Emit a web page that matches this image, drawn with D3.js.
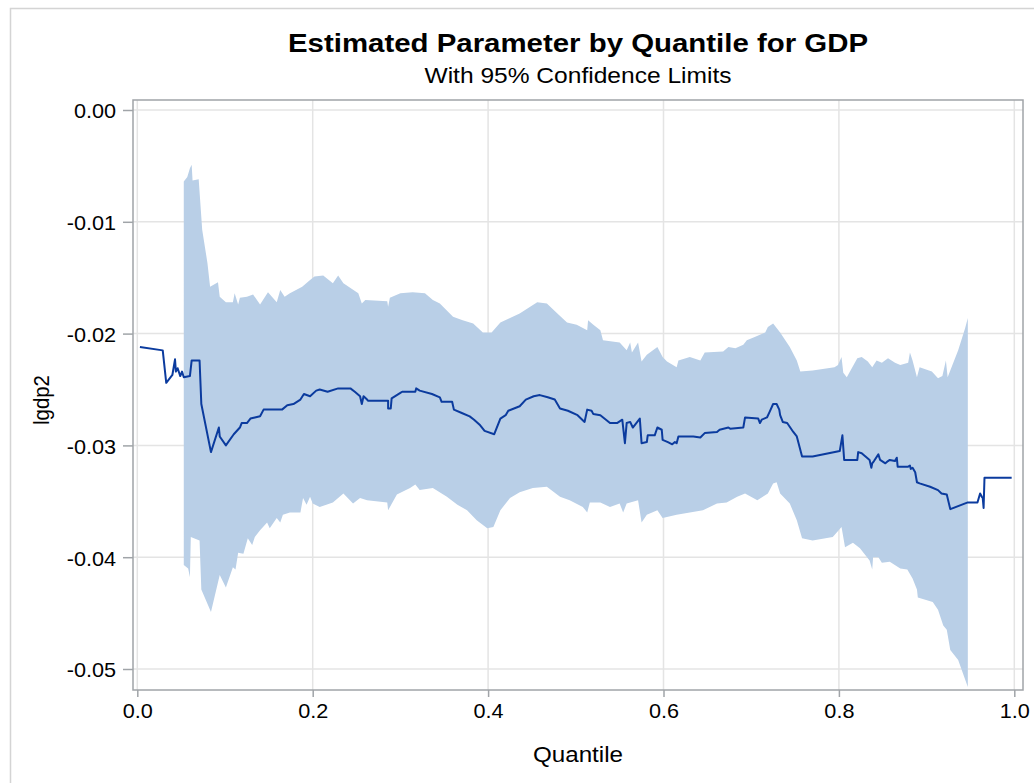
<!DOCTYPE html>
<html>
<head>
<meta charset="utf-8">
<script src="https://cdn.jsdelivr.net/npm/d3@7"></script>
<style>
  body { margin: 0; background: #fff; }
  svg text { font-family: "Liberation Sans", Arial, sans-serif; fill: #000; }
</style>
</head>
<body>
<svg id="chart" width="1034" height="783"></svg>
<script>
// estimate by quantile, [quantile, value]
var estimate = [
  [0.003,-0.0212],[0.029,-0.0215],[0.033,-0.0244],[0.040,-0.0237],[0.043,-0.0223],[0.044,-0.0234],
  [0.046,-0.0231],[0.049,-0.0238],[0.051,-0.0234],[0.053,-0.0239],[0.060,-0.0238],[0.062,-0.0224],
  [0.071,-0.0224],[0.073,-0.0263],[0.084,-0.0306],[0.093,-0.0284],[0.094,-0.0292],[0.101,-0.0300],
  [0.110,-0.0290],[0.117,-0.0284],[0.119,-0.0280],[0.125,-0.0280],[0.129,-0.0276],[0.134,-0.0275],
  [0.140,-0.0274],[0.144,-0.0268],[0.165,-0.0268],[0.171,-0.0264],[0.178,-0.0263],[0.186,-0.0259],
  [0.190,-0.0254],[0.197,-0.0256],[0.204,-0.0251],[0.208,-0.0250],[0.217,-0.0252],[0.229,-0.0249],
  [0.243,-0.0249],[0.248,-0.0252],[0.254,-0.0256],[0.256,-0.0263],[0.258,-0.0256],[0.262,-0.0259],
  [0.263,-0.0260],[0.286,-0.0260],[0.286,-0.0267],[0.289,-0.0267],[0.290,-0.0258],[0.300,-0.0253],
  [0.302,-0.0252],[0.317,-0.0252],[0.318,-0.0249],[0.322,-0.0251],[0.336,-0.0254],[0.345,-0.0257],
  [0.347,-0.0261],[0.359,-0.0261],[0.361,-0.0268],[0.370,-0.0271],[0.379,-0.0274],[0.384,-0.0277],
  [0.391,-0.0282],[0.396,-0.0287],[0.407,-0.0290],[0.414,-0.0276],[0.420,-0.0273],[0.423,-0.0269],
  [0.436,-0.0265],[0.443,-0.0259],[0.452,-0.0256],[0.459,-0.0255],[0.468,-0.0257],[0.476,-0.0259],
  [0.482,-0.0267],[0.491,-0.0269],[0.502,-0.0273],[0.510,-0.0279],[0.513,-0.0268],[0.518,-0.0269],
  [0.520,-0.0272],[0.528,-0.0273],[0.539,-0.0280],[0.547,-0.0280],[0.553,-0.0277],[0.556,-0.0298],
  [0.558,-0.0280],[0.562,-0.0279],[0.565,-0.0284],[0.573,-0.0276],[0.575,-0.0298],[0.581,-0.0297],
  [0.582,-0.0291],[0.590,-0.0291],[0.593,-0.0284],[0.598,-0.0286],[0.599,-0.0295],[0.605,-0.0297],
  [0.610,-0.0299],[0.613,-0.0297],[0.615,-0.0298],[0.617,-0.0292],[0.634,-0.0292],[0.642,-0.0293],
  [0.647,-0.0289],[0.661,-0.0288],[0.664,-0.0286],[0.674,-0.0284],[0.676,-0.0285],[0.691,-0.0284],
  [0.693,-0.0275],[0.708,-0.0276],[0.710,-0.0280],[0.712,-0.0277],[0.718,-0.0275],[0.721,-0.0270],
  [0.725,-0.0263],[0.729,-0.0263],[0.732,-0.0268],[0.733,-0.0273],[0.736,-0.0279],[0.741,-0.0280],
  [0.748,-0.0288],[0.752,-0.0292],[0.758,-0.0310],[0.770,-0.0310],[0.801,-0.0305],[0.804,-0.0291],
  [0.806,-0.0313],[0.821,-0.0313],[0.822,-0.0306],[0.826,-0.0307],[0.829,-0.0309],[0.835,-0.0313],
  [0.837,-0.0320],[0.838,-0.0316],[0.840,-0.0314],[0.845,-0.0308],[0.847,-0.0313],[0.853,-0.0316],
  [0.856,-0.0314],[0.858,-0.0313],[0.864,-0.0314],[0.866,-0.0311],[0.867,-0.0319],[0.879,-0.0319],
  [0.881,-0.0318],[0.882,-0.0321],[0.884,-0.0320],[0.887,-0.0324],[0.889,-0.0333],[0.892,-0.0334],
  [0.904,-0.0337],[0.913,-0.0340],[0.917,-0.0343],[0.923,-0.0344],[0.927,-0.0357],[0.947,-0.0351],
  [0.958,-0.0351],[0.961,-0.0343],[0.963,-0.0346],[0.964,-0.0347],[0.965,-0.0356],[0.966,-0.0329],
  [0.997,-0.0329]
];

// upper 95% limit
var upperCL = [
  [0.053,-0.0064],[0.057,-0.0060],[0.060,-0.0052],[0.062,-0.0049],[0.063,-0.0063],[0.070,-0.0062],
  [0.074,-0.0107],[0.080,-0.0137],[0.083,-0.0158],[0.092,-0.0154],[0.094,-0.0167],[0.101,-0.0172],
  [0.109,-0.0172],[0.111,-0.0164],[0.115,-0.0174],[0.117,-0.0168],[0.125,-0.0167],[0.132,-0.0165],
  [0.140,-0.0174],[0.149,-0.0163],[0.159,-0.0172],[0.163,-0.0161],[0.168,-0.0167],[0.174,-0.0164],
  [0.188,-0.0158],[0.197,-0.0152],[0.202,-0.0149],[0.212,-0.0148],[0.223,-0.0155],[0.229,-0.0148],
  [0.235,-0.0155],[0.252,-0.0164],[0.256,-0.0173],[0.260,-0.0170],[0.285,-0.0171],[0.286,-0.0176],
  [0.288,-0.0168],[0.300,-0.0164],[0.314,-0.0163],[0.328,-0.0164],[0.337,-0.0170],[0.345,-0.0173],
  [0.360,-0.0185],[0.371,-0.0188],[0.383,-0.0191],[0.394,-0.0199],[0.404,-0.0199],[0.414,-0.0190],
  [0.425,-0.0186],[0.436,-0.0182],[0.448,-0.0176],[0.456,-0.0172],[0.467,-0.0173],[0.479,-0.0182],
  [0.490,-0.0190],[0.501,-0.0192],[0.513,-0.0197],[0.514,-0.0188],[0.520,-0.0192],[0.528,-0.0197],
  [0.531,-0.0206],[0.550,-0.0208],[0.558,-0.0215],[0.562,-0.0208],[0.564,-0.0217],[0.571,-0.0208],
  [0.575,-0.0225],[0.581,-0.0219],[0.593,-0.0212],[0.599,-0.0221],[0.604,-0.0225],[0.615,-0.0230],
  [0.617,-0.0224],[0.630,-0.0221],[0.642,-0.0224],[0.647,-0.0217],[0.668,-0.0216],[0.674,-0.0212],
  [0.682,-0.0213],[0.691,-0.0210],[0.695,-0.0206],[0.704,-0.0203],[0.716,-0.0199],[0.719,-0.0194],
  [0.725,-0.0191],[0.729,-0.0195],[0.733,-0.0199],[0.744,-0.0212],[0.752,-0.0224],[0.756,-0.0234],
  [0.770,-0.0233],[0.795,-0.0230],[0.799,-0.0228],[0.803,-0.0221],[0.805,-0.0235],[0.809,-0.0239],
  [0.821,-0.0222],[0.826,-0.0221],[0.833,-0.0225],[0.838,-0.0230],[0.843,-0.0224],[0.849,-0.0226],
  [0.856,-0.0222],[0.860,-0.0224],[0.864,-0.0226],[0.870,-0.0228],[0.879,-0.0226],[0.881,-0.0217],
  [0.884,-0.0224],[0.889,-0.0239],[0.892,-0.0230],[0.906,-0.0234],[0.913,-0.0240],[0.918,-0.0238],
  [0.922,-0.0224],[0.924,-0.0239],[0.927,-0.0233],[0.936,-0.0215],[0.944,-0.0195],[0.947,-0.0186]
];

// lower 95% limit
var lowerCL = [
  [0.053,-0.0407],[0.058,-0.0410],[0.060,-0.0418],[0.061,-0.0382],[0.071,-0.0385],[0.073,-0.0429],
  [0.084,-0.0449],[0.094,-0.0416],[0.101,-0.0427],[0.109,-0.0409],[0.112,-0.0411],[0.115,-0.0396],
  [0.121,-0.0397],[0.126,-0.0383],[0.131,-0.0389],[0.134,-0.0382],[0.140,-0.0376],[0.148,-0.0369],
  [0.151,-0.0374],[0.159,-0.0365],[0.163,-0.0369],[0.166,-0.0362],[0.174,-0.0360],[0.186,-0.0360],
  [0.189,-0.0347],[0.193,-0.0353],[0.197,-0.0346],[0.200,-0.0352],[0.208,-0.0355],[0.223,-0.0351],
  [0.235,-0.0343],[0.246,-0.0352],[0.254,-0.0347],[0.262,-0.0349],[0.285,-0.0351],[0.286,-0.0358],
  [0.296,-0.0344],[0.311,-0.0338],[0.317,-0.0335],[0.322,-0.0340],[0.337,-0.0338],[0.353,-0.0346],
  [0.365,-0.0353],[0.376,-0.0358],[0.387,-0.0367],[0.399,-0.0374],[0.406,-0.0373],[0.414,-0.0358],
  [0.425,-0.0347],[0.436,-0.0342],[0.451,-0.0338],[0.467,-0.0337],[0.482,-0.0346],[0.493,-0.0349],
  [0.508,-0.0355],[0.513,-0.0360],[0.516,-0.0351],[0.528,-0.0351],[0.539,-0.0355],[0.550,-0.0352],
  [0.554,-0.0360],[0.558,-0.0352],[0.571,-0.0349],[0.575,-0.0369],[0.581,-0.0362],[0.593,-0.0358],
  [0.599,-0.0365],[0.615,-0.0362],[0.630,-0.0360],[0.645,-0.0358],[0.661,-0.0352],[0.672,-0.0351],
  [0.684,-0.0346],[0.693,-0.0343],[0.707,-0.0349],[0.719,-0.0343],[0.725,-0.0334],[0.729,-0.0333],
  [0.733,-0.0343],[0.744,-0.0352],[0.752,-0.0367],[0.758,-0.0383],[0.770,-0.0385],[0.793,-0.0382],
  [0.803,-0.0373],[0.807,-0.0391],[0.816,-0.0387],[0.824,-0.0392],[0.835,-0.0403],[0.838,-0.0411],
  [0.839,-0.0400],[0.845,-0.0400],[0.849,-0.0405],[0.858,-0.0404],[0.870,-0.0410],[0.878,-0.0411],
  [0.884,-0.0419],[0.889,-0.0429],[0.890,-0.0436],[0.907,-0.0440],[0.913,-0.0447],[0.919,-0.0461],
  [0.923,-0.0465],[0.927,-0.0483],[0.936,-0.0492],[0.947,-0.0516]
];

var xTicks = [0, 0.2, 0.4, 0.6, 0.8, 1.0];
var yTicks = [0, -0.01, -0.02, -0.03, -0.04, -0.05];

var svg = d3.select("#chart");
var frame = {left: 133, right: 1023, top: 100, bottom: 690};

var x = d3.scaleLinear().domain([0, 1]).range([137.3, 1014.3]);
var y = d3.scaleLinear().domain([0, -0.05]).range([110, 669]);

// plain hyphen instead of d3's unicode minus
function fmt(spec) {
    var f = d3.format(spec);
    return function(d) { return f(d).replace("\u2212", "-"); };
}

// the original font is a bit wider than Liberation Sans
function widen(sel, k) {
    sel.each(function() {
        var w = this.getComputedTextLength();
        d3.select(this).attr("textLength", w * k).attr("lengthAdjust", "spacingAndGlyphs");
    });
}

// outer border
svg.append("rect")
    .attr("x", 10.5).attr("y", 8.5)
    .attr("width", 1040).attr("height", 800)
    .attr("fill", "none").attr("stroke", "#d4d4d4").attr("stroke-width", 1.5);

// grid
svg.append("g").selectAll("line")
    .data(xTicks).enter().append("line")
    .attr("x1", d => x(d)).attr("x2", d => x(d))
    .attr("y1", frame.top).attr("y2", frame.bottom)
    .attr("stroke", "#e4e4e4").attr("stroke-width", 1.5);
svg.append("g").selectAll("line")
    .data(yTicks).enter().append("line")
    .attr("x1", frame.left).attr("x2", frame.right)
    .attr("y1", d => y(d)).attr("y2", d => y(d))
    .attr("stroke", "#e4e4e4").attr("stroke-width", 1.5);

// confidence band: upper limit out, lower limit back
var band = upperCL.concat(lowerCL.slice().reverse());
svg.append("path")
    .attr("d", d3.line().x(d => x(d[0])).y(d => y(d[1]))(band) + "Z")
    .attr("fill", "#b9cfe7").attr("stroke", "none");

// estimate
svg.append("path")
    .datum(estimate)
    .attr("d", d3.line().x(d => x(d[0])).y(d => y(d[1])))
    .attr("fill", "none").attr("stroke", "#0b3b9e").attr("stroke-width", 2)
    .attr("stroke-linejoin", "round");

// frame
svg.append("rect")
    .attr("x", frame.left).attr("y", frame.top)
    .attr("width", frame.right - frame.left).attr("height", frame.bottom - frame.top)
    .attr("fill", "none").attr("stroke", "#a0a4a8").attr("stroke-width", 1.5);

// axes
var xAxis = svg.append("g")
    .attr("transform", "translate(0," + frame.bottom + ")")
    .call(d3.axisBottom(x).tickValues(xTicks).tickFormat(fmt(".1f")).tickSizeOuter(0).tickSize(7).tickPadding(6));
var yAxis = svg.append("g")
    .attr("transform", "translate(" + frame.left + ",0)")
    .call(d3.axisLeft(y).tickValues(yTicks).tickFormat(fmt(".2f")).tickSizeOuter(0).tickSize(10).tickPadding(7));
[xAxis, yAxis].forEach(function(g){
    g.select(".domain").remove();
    g.selectAll(".tick line").attr("stroke", "#a0a4a8").attr("stroke-width", 1.5);
    g.selectAll(".tick text").style("font-size", "21px")
        .style("font-family", "Liberation Sans, Arial, sans-serif").attr("fill", "#000");
    widen(g.selectAll(".tick text"), 1.03);
});
yAxis.selectAll(".tick text").attr("dy", "0.38em");

// titles
svg.append("text").attr("x", 578).attr("y", 52).attr("text-anchor", "middle")
    .style("font-size", "26px").style("font-weight", "bold")
    .attr("textLength", 580).attr("lengthAdjust", "spacingAndGlyphs")
    .text("Estimated Parameter by Quantile for GDP");
svg.append("text").attr("x", 578).attr("y", 83).attr("text-anchor", "middle")
    .style("font-size", "22px")
    .attr("textLength", 307).attr("lengthAdjust", "spacingAndGlyphs")
    .text("With 95% Confidence Limits");
svg.append("text").attr("x", 578).attr("y", 762).attr("text-anchor", "middle")
    .style("font-size", "22px")
    .attr("textLength", 90).attr("lengthAdjust", "spacingAndGlyphs")
    .text("Quantile");
svg.append("text").attr("transform", "translate(49,400) rotate(-90)").attr("text-anchor", "middle")
    .style("font-size", "22px")
    .attr("textLength", 50).attr("lengthAdjust", "spacingAndGlyphs")
    .text("lgdp2");
</script>
</body>
</html>
